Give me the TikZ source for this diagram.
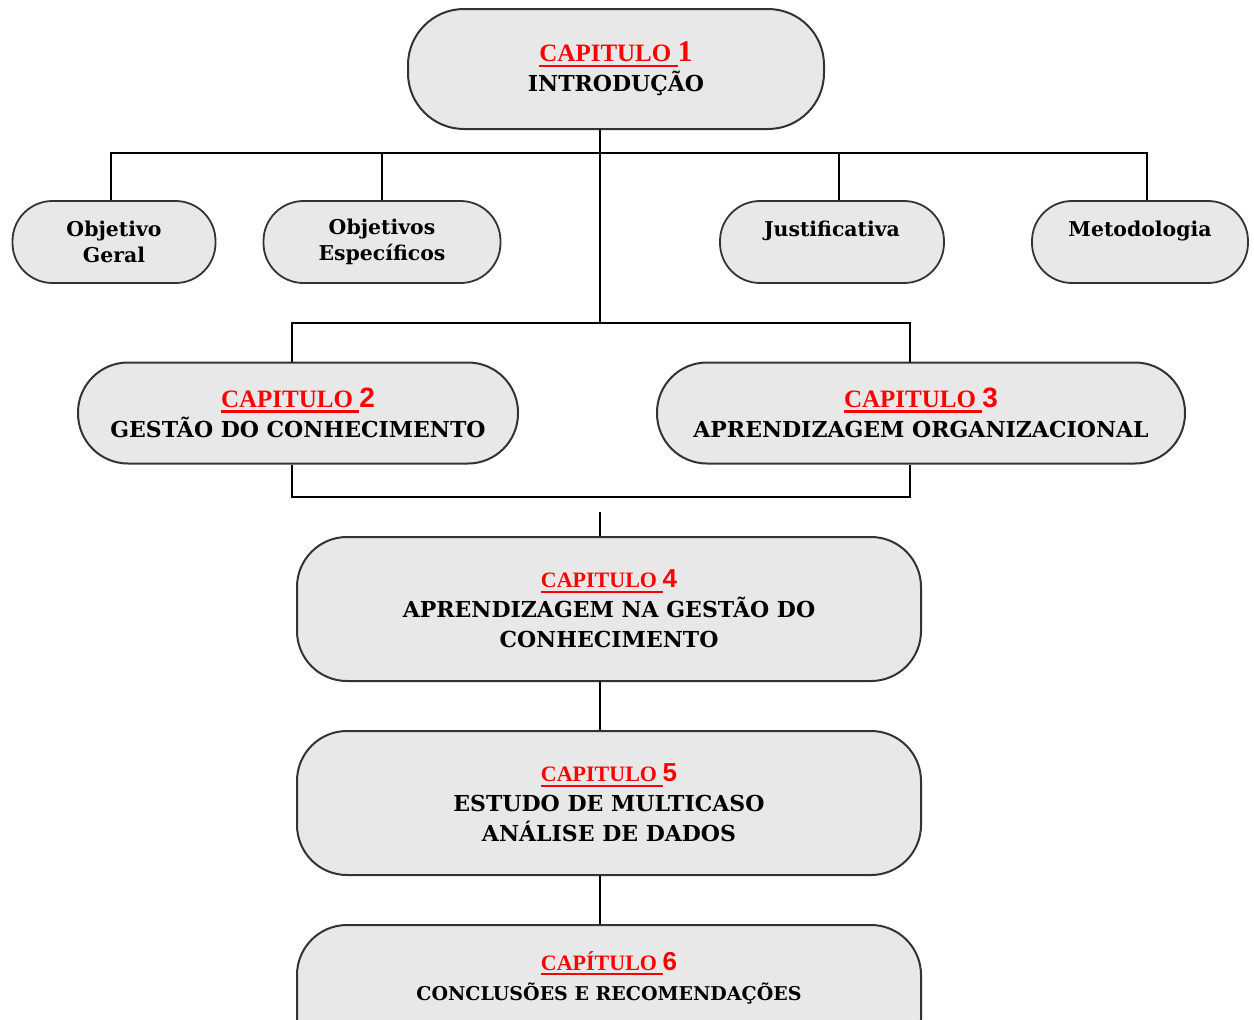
\documentclass[tikz,border=0pt]{standalone}
\usepackage{fontspec}
\setmainfont{DejaVu Serif}
\newfontfamily\capfont{Liberation Serif}
\newfontfamily\numfont{Liberation Sans}
\usepackage{tikz}
\usetikzlibrary{positioning}
\definecolor{boxfill}{HTML}{E8E8E8}
\definecolor{boxline}{HTML}{333333}

% red chapter heading, underlined word followed by the number
\newcommand{\redline}[1]{\vtop{\hbox{#1}\kern1.3pt\hrule height 1.1pt}}
\newcommand{\chaptag}[3]{{\color{red}\capfont\bfseries\fontsize{#1}{#1}\selectfont\redline{#2\ }#3}}

\begin{document}
\begin{tikzpicture}[x=0.5pt, y=-0.5pt, line width=1.2pt,
  chapbox/.style={rectangle, draw=boxline, line width=1pt, fill=boxfill, rounded corners=25pt, inner sep=0pt, align=center, font=\bfseries\fontsize{11}{15}\selectfont},
  subbox/.style={rectangle, draw=boxline, line width=0.9pt, fill=boxfill, rounded corners=20pt, inner sep=0pt, align=center, minimum height=41pt, font=\bfseries\fontsize{10.2}{13}\selectfont},
  node distance=24pt]

  \clip (0,0) rectangle (1254,1019);

  \node[chapbox, minimum width=208pt, minimum height=60pt, rounded corners=28pt] (c1) at (616,69)
    {\chaptag{12.5}{CAPITULO}{\fontsize{15}{15}\selectfont 1}\\INTRODUÇÃO};

  \node[subbox, minimum width=101.5pt] (og) at (114,242) {Objetivo\\Geral};
  \node[subbox, minimum width=118.5pt] (oe) at (382,242) {Objetivos\\Específicos};
  \node[subbox, minimum width=112pt] (ju) at (832,242) {Justificativa\\\mbox{}};
  \node[subbox, minimum width=108pt] (me) at (1140,242) {Metodologia\\\mbox{}};

  \node[chapbox, minimum width=220pt, minimum height=50.5pt] (c2) at (298,413)
    {\chaptag{12.5}{CAPITULO}{\numfont\fontsize{14}{14}\selectfont 2}\\GESTÃO DO CONHECIMENTO};
  \node[chapbox, minimum width=264pt, minimum height=50.5pt] (c3) at (921,413)
    {\chaptag{12.5}{CAPITULO}{\numfont\fontsize{14}{14}\selectfont 3}\\APRENDIZAGEM ORGANIZACIONAL};

  \node[chapbox, minimum width=312pt, minimum height=72pt] (c4) at (609,609)
    {\chaptag{11}{CAPITULO}{\numfont\fontsize{13}{13}\selectfont 4}\\APRENDIZAGEM NA GESTÃO DO\\CONHECIMENTO};
  \node[chapbox, minimum width=312pt, minimum height=72pt] (c5) [below = of c4]
    {\chaptag{11}{CAPITULO}{\numfont\fontsize{13}{13}\selectfont 5}\\ESTUDO DE MULTICASO\\ANÁLISE DE DADOS};
  \node[chapbox, minimum width=312pt, minimum height=72pt, text depth=21pt] (c6) [below = of c5]
    {\chaptag{11}{CAPÍTULO}{\numfont\fontsize{13}{13}\selectfont 6}\\{\fontsize{9.5}{13}\selectfont CONCLUSÕES E RECOMENDAÇÕES}};

  \coordinate (j1) at (600,153);
  \coordinate (j2) at (600,323);
  \coordinate (d2) at (292,323);
  \coordinate (d3) at (910,323);
  \coordinate (b1) at (600,497);
  \coordinate (j3) at (600,512);

  % top level
  \draw (c1.south -| j1) -- (j2);
  \draw ([xshift=-1.5pt]og.north) |- (j1) -| ([xshift=3.5pt]me.north);
  \draw (oe.north) -- (oe.north |- j1);
  \draw ([xshift=3.5pt]ju.north) -- ([xshift=3.5pt]ju.north |- j1);
  % chapters 2 and 3
  \draw (d2 |- c2.north) -- (d2) -- (d3) -- (d3 |- c3.north);
  \draw (d2 |- c2.south) -- (d2 |- b1) -- (d3 |- b1) -- (d3 |- c3.south);
  % main column
  \draw (j3) -- (j3 |- c4.north);
  \draw (c4.south -| j3) -- (c5.north -| j3);
  \draw (c5.south -| j3) -- (c6.north -| j3);
\end{tikzpicture}
\end{document}
